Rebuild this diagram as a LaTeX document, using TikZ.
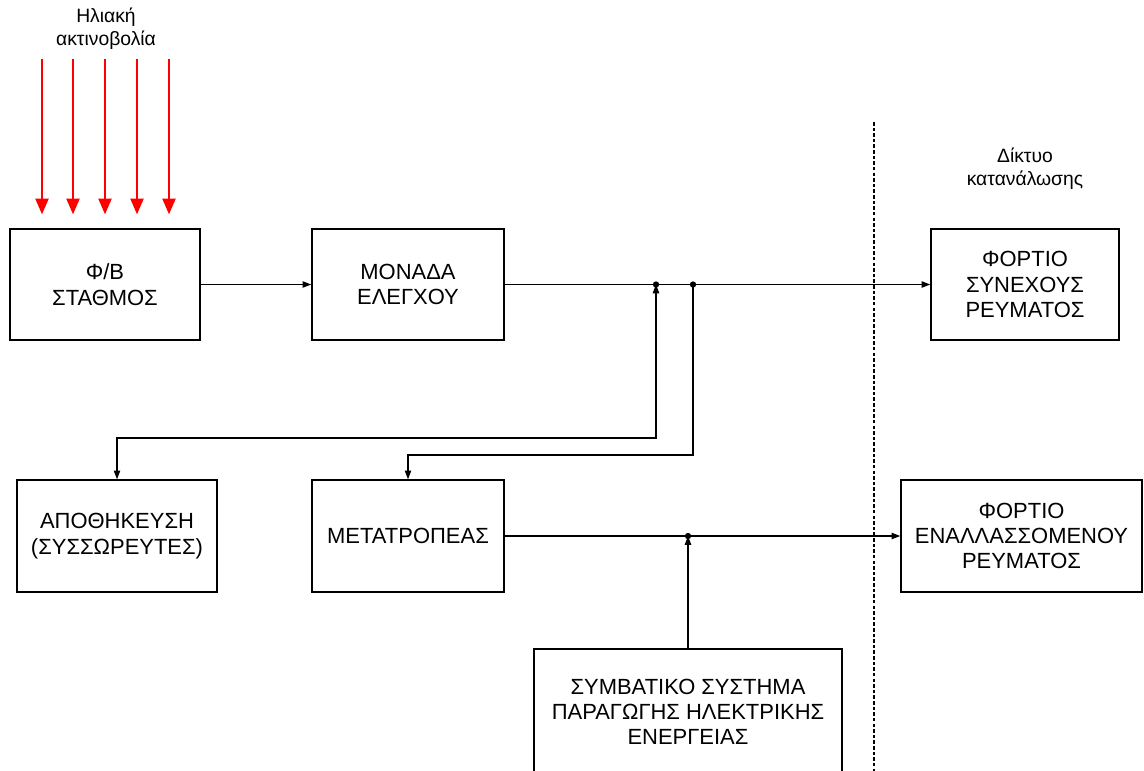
\documentclass[tikz,border=0pt]{standalone}
\usepackage{fontspec}
\setmainfont{Liberation Sans}
\usetikzlibrary{arrows.meta}

\begin{document}
\begin{tikzpicture}[x=0.02cm,y=-0.02cm,
			>={Triangle[length=5pt,width=3.6pt]},
			block/.style={draw,line width=0.8pt,align=center,inner sep=0pt,font=\fontsize{12.5}{14.4}\selectfont},
			link/.style={line width=0.8pt},
			ray/.style={draw=red,line width=1.1pt,-{Triangle[length=9pt,width=7.5pt]}},
			tag/.style={align=center,font=\fontsize{11}{13}\selectfont},
			gridline/.style={line width=0.8pt,dash pattern=on 2pt off 1.2pt}]
			\useasboundingbox (0,0) rectangle (1144,771);
			\clip (0,0) rectangle (1144,771);
			
			\node[tag] (SunLabel) at (106,29) {Ηλιακή\\ακτινοβολία};
			\node[tag] (GridLabel) at (1025,169) {Δίκτυο\\κατανάλωσης};
			
			\node[block,minimum width=3.8cm,minimum height=2.22cm] (PVStation) at (105,284.5) {Φ/Β\\ΣΤΑΘΜΟΣ};
			\node[block,minimum width=3.84cm,minimum height=2.22cm] (Control) at (408,284.5) {ΜΟΝΑΔΑ\\ΕΛΕΓΧΟΥ};
			\node[block,minimum width=3.76cm,minimum height=2.22cm] (DCLoad) at (1025,284.5) {ΦΟΡΤΙΟ\\ΣΥΝΕΧΟΥΣ\\ΡΕΥΜΑΤΟΣ};
			\node[block,minimum width=4cm,minimum height=2.24cm] (Storage) at (117,536) {ΑΠΟΘΗΚΕΥΣΗ\\(ΣΥΣΣΩΡΕΥΤΕΣ)};
			\node[block,minimum width=3.84cm,minimum height=2.24cm] (Inverter) at (408,536) {ΜΕΤΑΤΡΟΠΕΑΣ};
			\node[block,minimum width=4.82cm,minimum height=2.24cm] (ACLoad) at (1021.5,536) {ΦΟΡΤΙΟ\\ΕΝΑΛΛΑΣΣΟΜΕΝΟΥ\\ΡΕΥΜΑΤΟΣ};
			\node[block,minimum width=6.16cm,minimum height=2.52cm] (Backup) at (688,712) {ΣΥΜΒΑΤΙΚΟ ΣΥΣΤΗΜΑ\\ΠΑΡΑΓΩΓΗΣ ΗΛΕΚΤΡΙΚΗΣ\\ΕΝΕΡΓΕΙΑΣ};
			
			\coordinate (JStore) at (656,284.5);
			\coordinate (JInv) at (693,284.5);
			\coordinate (BendStore) at (656,438);
			\coordinate (BendInv) at (693,455);
			\coordinate (JAC) at (688,536);
			\coordinate (GridTop) at (874,122);
			\coordinate (GridBottom) at (874,771);
			
			\foreach \x in {42,73,105,137,169} {
				\coordinate (Ray\x) at (\x,59);
				\draw[ray,shorten >=0.28cm] (Ray\x) -- (Ray\x |- PVStation.north);
			}
			
			\draw[gridline] (GridTop) -- (GridBottom);
			
			\draw[link,->] (PVStation) -- (Control);
			\draw[link,->] (Control) -- (DCLoad);
			\draw[link,<->] (Storage.north) |- (BendStore) -- (JStore);
			\draw[link,->] (JInv) -- (BendInv) -| (Inverter.north);
			\draw[link,->] (Inverter) -- (ACLoad);
			\draw[link,->] (Backup.north -| JAC) -- (JAC);
			
			\foreach \j in {JStore,JInv,JAC}
				\fill (\j) circle (1.8pt);
\end{tikzpicture}
\end{document}
